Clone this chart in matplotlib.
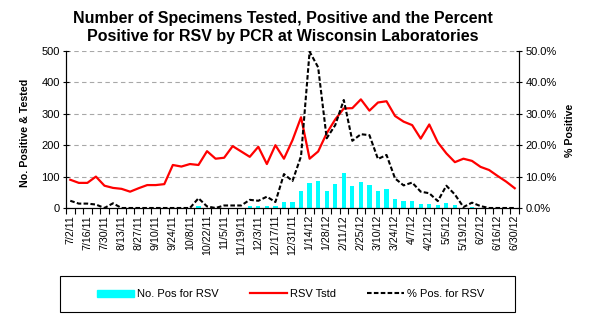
import matplotlib
matplotlib.use("Agg")
import matplotlib.pyplot as plt
from matplotlib.ticker import PercentFormatter, MultipleLocator
from matplotlib.patches import Rectangle
from matplotlib.lines import Line2D
import numpy as np

plt.rcParams['font.family'] = ['Liberation Sans', 'DejaVu Sans']

# weekly data, 7/2/11 .. 6/30/12
tick_labels = ["7/2/11", "7/16/11", "7/30/11", "8/13/11", "8/27/11", "9/10/11", "9/24/11",
               "10/8/11", "10/22/11", "11/5/11", "11/19/11", "12/3/11", "12/17/11", "12/31/11",
               "1/14/12", "1/28/12", "2/11/12", "2/25/12", "3/10/12", "3/24/12", "4/7/12",
               "4/21/12", "5/5/12", "5/19/12", "6/2/12", "6/16/12", "6/30/12"]

rsv_tested = [90, 80, 80, 100, 71, 64, 61, 52, 63, 73, 73, 76,
              137, 132, 140, 137, 181, 157, 160, 197, 180, 163, 195, 140,
              200, 157, 216, 289, 157, 180, 238, 282, 317, 318, 346, 310,
              336, 340, 293, 275, 264, 221, 266, 209, 174, 146, 157, 150,
              131, 121, 102, 84, 63]

rsv_pos = [0, 0, 0, 0, 0, 0, 0, 0, 0, 0, 0, 0,
           0, 0, 0, 5, 0, 0, 0, 0, 0, 5, 5, 5,
           5, 20, 20, 54, 81, 86, 54, 76, 111, 70, 83, 73,
           54, 60, 29, 22, 22, 13, 13, 8, 17, 8, 0, 2,
           1, 0, 0, 0, 0]

pct_pos = [2.3, 1.4, 1.4, 1.1, 0.0, 1.5, 0.0, 0.0, 0.0, 0.0, 0.0, 0.0,
           0.0, 0.0, 0.0, 3.1, 0.5, 0.0, 0.8, 0.8, 0.8, 2.6, 2.3, 3.6,
           1.9, 10.8, 8.6, 16.5, 49.8, 44.8, 22.2, 26.4, 34.4, 21.4, 23.5, 23.2,
           15.6, 16.9, 9.4, 7.2, 8.1, 5.2, 4.7, 2.2, 7.1, 4.3, 0.3, 1.7,
           0.6, 0.0, 0.0, 0.0, 0.0]

n = len(rsv_tested)
x = np.arange(n)

fig = plt.figure(figsize=(5.92, 3.35), dpi=100)
ax = fig.add_axes([66/592, 1 - 208/335, (519 - 66)/592, (208 - 51)/335])

ax.bar(x, rsv_pos, width=0.5, color='#00FFFF', zorder=2)
ax.plot(x, rsv_tested, color='#FF0000', lw=1.6, zorder=3)
ax.set_xlim(-0.5, n - 0.5)
ax.set_ylim(0, 500)
ax.yaxis.set_major_locator(MultipleLocator(100))
ax.grid(axis='y', color='#A8A8A8', ls=(0, (4, 3)), lw=0.8, zorder=0)
ax.set_axisbelow(True)

ax2 = ax.twinx()
ax2.plot(x, pct_pos, color='black', lw=1.5, ls=(0, (2.2, 1.1)), zorder=4)
ax2.set_ylim(0, 50)
ax2.yaxis.set_major_locator(MultipleLocator(10))
ax2.yaxis.set_major_formatter(PercentFormatter(xmax=100, decimals=1))

for a in (ax, ax2):
    a.spines['top'].set_visible(False)
    for s in ('left', 'right', 'bottom'):
        a.spines[s].set_linewidth(0.8)
ax.tick_params(axis='y', direction='inout', length=5, width=0.8, labelsize=8, pad=2)
ax2.tick_params(axis='y', direction='inout', length=5, width=0.8, labelsize=8, pad=2)

# labels every other week, tick marks at week boundaries
ax.set_xticks(x[::2])
ax.set_xticklabels(tick_labels, rotation=90, fontsize=7.7)
ax.tick_params(axis='x', length=0, pad=5)
ax.set_xticks(np.arange(-0.5, n, 1.0), minor=True)
ax.tick_params(axis='x', which='minor', length=4, width=0.8, direction='out')

fig.text(25/592, 1 - 133/335, "No. Positive & Tested", rotation=90, ha='center', va='center',
         fontsize=7.7, fontweight='bold')
fig.text(570/592, 1 - 130/335, "% Positive", rotation=90, ha='center', va='center',
         fontsize=7.7, fontweight='bold')

fig.text(283/592, 1 - 27/335, "Number of Specimens Tested, Positive and the Percent\n"
         "Positive for RSV by PCR at Wisconsin Laboratories",
         ha='center', va='center', fontsize=11.5, fontweight='bold', linespacing=1.25)

# legend with a box drawn separately
fig.patches.append(Rectangle((60/592, 1 - 312/335), 455/592, 36/335, transform=fig.transFigure,
                             fill=False, edgecolor='black', lw=0.8))
handles = [Rectangle((0, 0), 1, 1, color='#00FFFF'),
           Line2D([], [], color='#FF0000', lw=1.6),
           Line2D([], [], color='black', lw=1.5, ls=(0, (2.2, 1.1)))]
fig.legend(handles, ["No. Pos for RSV", "RSV Tstd", "% Pos. for RSV"], ncol=3,
           loc='center', bbox_to_anchor=(291/592, 1 - 294/335), frameon=False,
           fontsize=8, handlelength=3.3, handleheight=0.6, handletextpad=0.3,
           columnspacing=2.8)

fig.savefig("out.png", dpi=100)
